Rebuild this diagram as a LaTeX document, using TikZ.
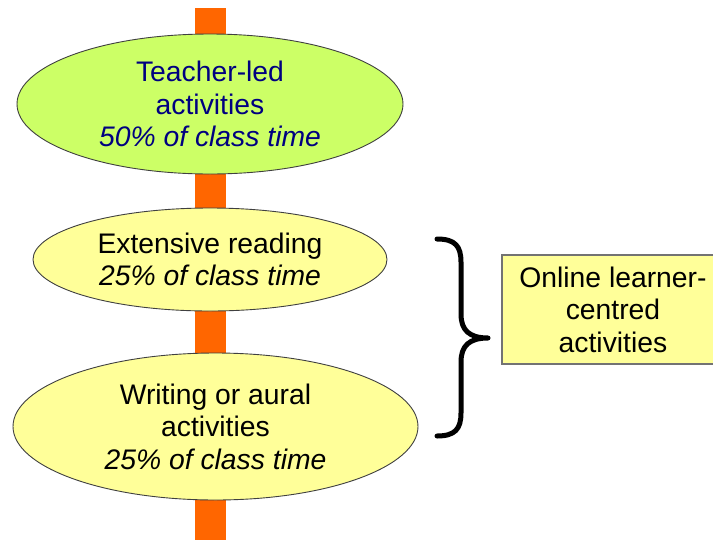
\documentclass[tikz,border=0pt]{standalone}
\usepackage{fontspec}
\setmainfont{Liberation Sans}
\usetikzlibrary{shapes.geometric}
\definecolor{barorange}{HTML}{FF6600}
\definecolor{limefill}{HTML}{CCFF66}
\definecolor{paleyellow}{HTML}{FFFF99}
\definecolor{navytext}{HTML}{000080}
\tikzset{
  ovalbox/.style={ellipse, draw=black!75, line width=0.9pt, inner sep=0pt, align=center,
    font=\fontsize{28.3}{32.5}\selectfont},
  notebox/.style={rectangle, draw=black!55, line width=1.2pt, fill=paleyellow, inner sep=0pt,
    align=center, font=\fontsize{28.3}{32.5}\selectfont},
  bracepath/.style={line width=5pt, line cap=round, line join=round},
}
\begin{document}
\begin{tikzpicture}[x=1pt,y=-1pt]
\useasboundingbox (0,0) rectangle (713,539);
\fill[white] (0,0) rectangle (713,539);
% central orange bar
\coordinate (bartop) at (210.5,8);
\coordinate (barbot) at (210.5,545);
\draw[barorange, line width=31pt] (bartop) -- (barbot);
% ellipses
\node[ovalbox, fill=limefill, text=navytext, minimum width=386pt, minimum height=140pt]
  (teach) at (210,104) {Teacher-led\\activities\\\textit{50\% of class time}};
\node[ovalbox, fill=paleyellow, minimum width=354pt, minimum height=103pt]
  (read) at (210,259.5) {Extensive reading\\\textit{25\% of class time}};
\node[ovalbox, fill=paleyellow, minimum width=405pt, minimum height=147pt]
  (write) at (215.5,426.5) {Writing or aural\\activities\\\textit{25\% of class time}};
% note box
\node[notebox, minimum width=222pt, minimum height=109pt]
  (online) at (613,309.5) {Online learner-\\centred\\activities};
% brace
\coordinate (btop) at (437,239);
\coordinate (btip) at (488,338);
\coordinate (bbot) at (437,436);
\draw[bracepath] (btop) .. controls (455,239) and (461,246) .. (461,262)
  -- (461,314) .. controls (461,330) and (469,338) .. (btip)
  .. controls (469,338) and (461,346) .. (461,362)
  -- (461,413) .. controls (461,429) and (455,436) .. (bbot);
\end{tikzpicture}
\end{document}
